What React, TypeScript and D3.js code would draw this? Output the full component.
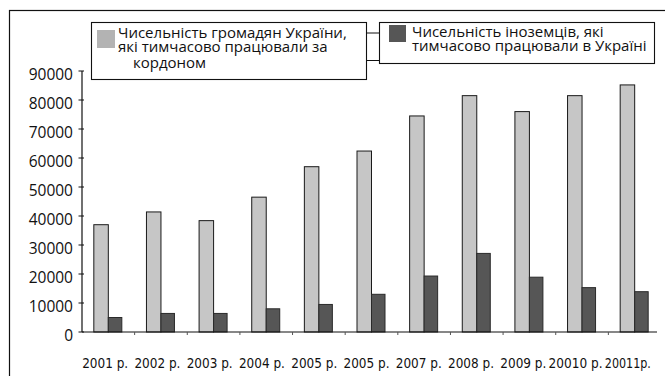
import React from "react";
import * as d3 from "d3";

// Years along the horizontal axis (labels kept exactly as printed)
const categories = [
  "2001 р.", "2002 р.", "2003 р.", "2004 р.", "2005 р.", "2005 р.",
  "2007 р.", "2008 р.", "2009 р.", "20010 р.", "20011р.",
];
// Ukrainian citizens temporarily employed abroad
const abroad = [37000, 41400, 38400, 46500, 57000, 62400, 74500, 81500, 76000, 81500, 85200];
// Foreigners temporarily employed in Ukraine
const foreigners = [5000, 6400, 6400, 8000, 9500, 13000, 19300, 27100, 18900, 15300, 13900];
const yTicks = [0, 10000, 20000, 30000, 40000, 50000, 60000, 70000, 80000, 90000];

const legendAbroad = ["Чисельність громадян України,", "які  тимчасово працювали за", "кордоном"];
const legendForeign = ["Чисельність іноземців, які", "тимчасово працювали в Україні"];

const W = 665;
const H = 376;
const FONT = "'Open Sans', 'DejaVu Sans', sans-serif";
const LIGHT = "#c6c6c6";
const DARK = "#565656";

export default function App() {
  const idx = d3.range(categories.length);
  const x = d3.scaleBand<number>().domain(idx).range([82, 661]).padding(0);
  // year labels sit on a slightly narrower band than the bars
  const xl = d3.scaleBand<number>().domain(idx).range([79, 654]).padding(0);
  const y = d3.scaleLinear().domain([0, 90000]).range([332, 71]);
  const bw = 14.5;
  const cx = (i: number) => (x(i) as number) + x.bandwidth() / 2;

  return (
    <svg
      width={W}
      height={H}
      style={{ position: "absolute", left: 0, top: 0, background: "#fff" }}
      fontFamily={FONT}
    >
      <rect x={0} y={0} width={W} height={H} fill="#fff" />
      {/* outer frame */}
      <rect x={9.5} y={10.5} width={700} height={420} fill="none" stroke="#111" strokeWidth={1.2} />

      {/* bars */}
      {abroad.map((v, i) => (
        <rect
          key={"a" + i}
          x={cx(i) - bw}
          y={y(v)}
          width={bw}
          height={y(0) - y(v)}
          fill={LIGHT}
          stroke="#1a1a1a"
          strokeWidth={1}
        />
      ))}
      {foreigners.map((v, i) => (
        <rect
          key={"f" + i}
          x={cx(i)}
          y={y(v)}
          width={bw - 1}
          height={y(0) - y(v)}
          fill={DARK}
          stroke="#2a2a2a"
          strokeWidth={1}
        />
      ))}

      {/* y axis */}
      <line x1={82} x2={82} y1={y(90000)} y2={y(0)} stroke="#111" strokeWidth={1.2} />
      {yTicks.map((t) => (
        <g key={t}>
          <line x1={78.5} x2={84} y1={y(t)} y2={y(t)} stroke="#111" strokeWidth={1} />
          <text x={73} y={y(t) + 3} dy="0.36em" textAnchor="end" fontSize={15.5} fill="#111">
            {t}
          </text>
        </g>
      ))}

      {/* x axis */}
      <line x1={82} x2={657} y1={y(0)} y2={y(0)} stroke="#111" strokeWidth={1.2} />
      {idx.map((i) =>
        i > 0 ? (
          <line
            key={"t" + i}
            x1={x(i) as number}
            x2={x(i) as number}
            y1={y(0)}
            y2={y(0) + 3}
            stroke="#555"
            strokeWidth={1}
          />
        ) : null
      )}
      {categories.map((c, i) => (
        <text
          key={"l" + i}
          x={(xl(i) as number) + xl.bandwidth() / 2}
          y={367.5}
          textAnchor="middle"
          fontSize={14.5}
          fill="#111"
          style={{ fontFamily: "'DejaVu Sans Condensed', 'DejaVu Sans', sans-serif" }}
          textLength={c.length > 7 ? 54 : 46}
          lengthAdjust="spacingAndGlyphs"
        >
          {c}
        </text>
      ))}

      {/* legend connectors */}
      <line x1={366} x2={379} y1={33} y2={33} stroke="#111" strokeWidth={1} />
      <line x1={366} x2={379} y1={60.5} y2={60.5} stroke="#111" strokeWidth={1} />

      {/* legend: citizens abroad */}
      <rect x={91.5} y={22.5} width={275} height={57} fill="#fff" stroke="#111" strokeWidth={1.1} />
      <rect x={97} y={30} width={18} height={18} fill="#b3b3b3" />
      <text x={118} y={37.5} fontSize={15} fill="#111">{legendAbroad[0]}</text>
      <text x={118} y={51.5} fontSize={15} fill="#111">{legendAbroad[1]}</text>
      <text x={133} y={68} fontSize={15} fill="#111">{legendAbroad[2]}</text>

      {/* legend: foreigners in Ukraine */}
      <rect x={379.5} y={22.5} width={275} height={41} fill="#fff" stroke="#111" strokeWidth={1.1} />
      <rect x={389} y={25} width={17} height={17} fill={DARK} />
      <text x={412} y={36.5} fontSize={15} fill="#111">{legendForeign[0]}</text>
      <text x={412} y={50.5} fontSize={15} fill="#111">{legendForeign[1]}</text>
    </svg>
  );
}
